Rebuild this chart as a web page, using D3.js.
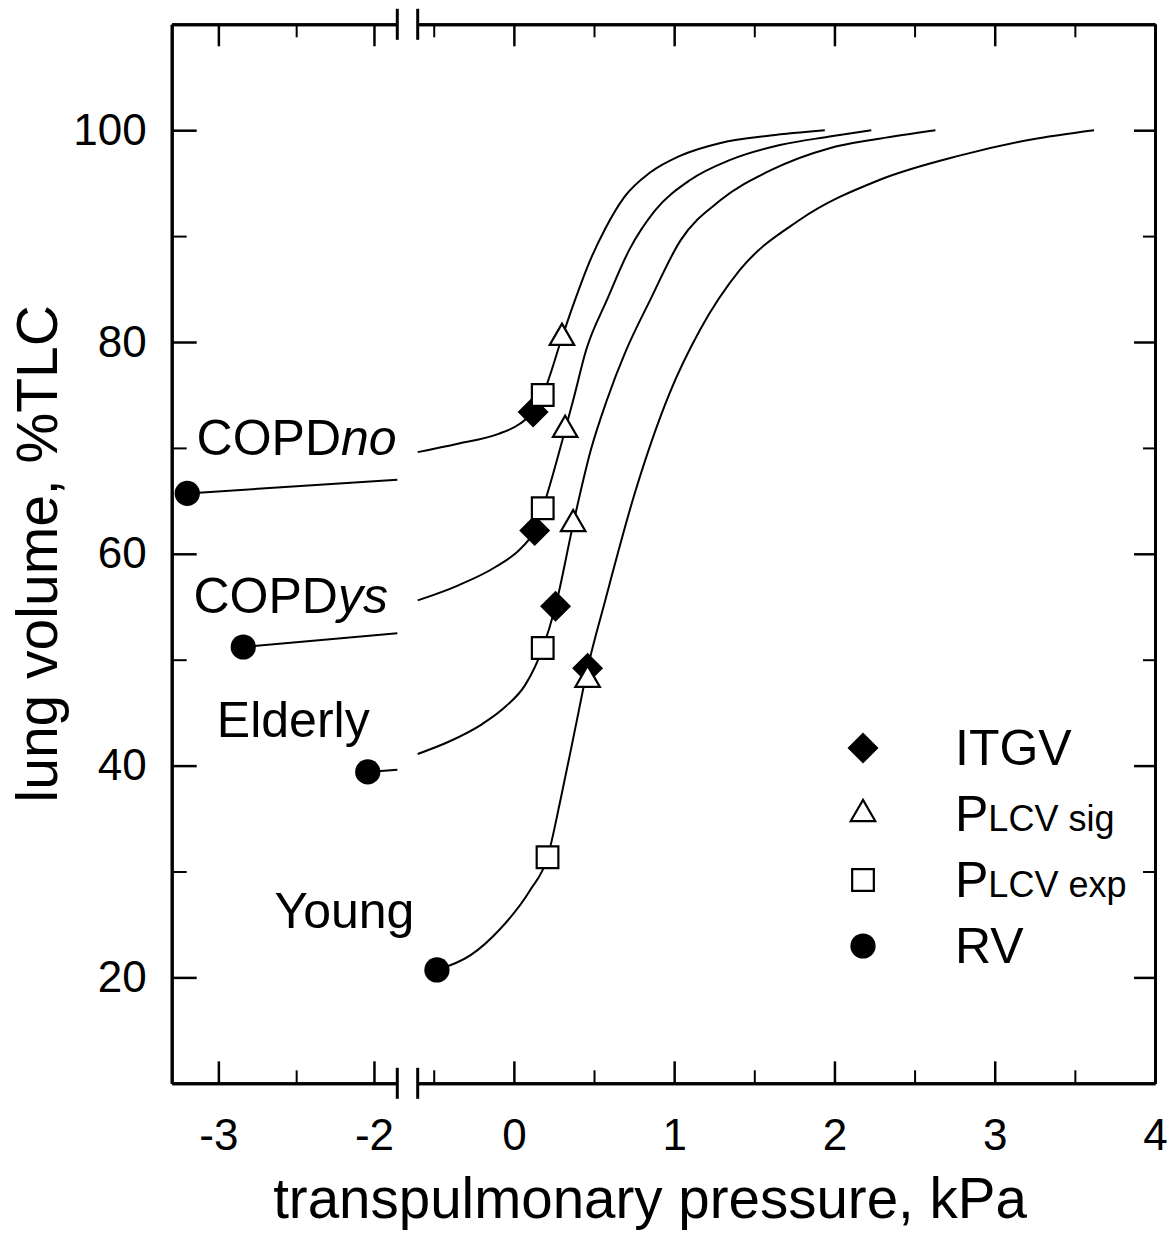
<!DOCTYPE html>
<html>
<head>
<meta charset="utf-8">
<script src="https://cdn.jsdelivr.net/npm/d3@7"></script>
<style>
body { margin: 0; background: #fff; }
text { font-family: "Liberation Sans", Arial, sans-serif; fill: #000; }
</style>
</head>
<body>
<div id="chart"></div>
<script>
// groups, bottom curve to top curve
const groups = ["Young", "Elderly", "COPDys", "COPDno"];

// RV (start of each curve)
const rvX = [-0.48, -2.04, -2.84, -3.20];
const rvY = [20.7, 39.4, 51.2, 65.7];
// ITGV
const itgvX = [0.46, 0.26, 0.13, 0.12];
const itgvY = [49.2, 55.05, 62.2, 73.4];
// PLCV sig
const sigX = [0.46, 0.37, 0.32, 0.30];
const sigY = [48.1, 62.8, 71.7, 80.4];
// PLCV exp
const expX = [0.21, 0.18, 0.18, 0.18];
const expY = [31.35, 51.1, 64.3, 75.0];

// curve pieces left of the axis break
const elderlyLeft = [[-2.04, 39.4], [-1.85, 39.6]];
const copdysLeft = [[-2.84, 51.2], [-1.85, 52.5]];
const copdnoLeft = [[-3.20, 65.7], [-1.85, 67.0]];

// curve pieces right of the axis break
const youngCurve = [[-0.48, 20.7], [-0.27, 22.1], [-0.09, 24.5], [0.10, 28.2], [0.21, 31.35], [0.29, 36.7],
  [0.38, 43.3], [0.46, 49.2], [0.57, 55.6], [0.75, 65.5], [0.97, 75.1], [1.16, 81.1], [1.41, 86.8],
  [1.78, 91.5], [2.28, 95.3], [2.78, 97.6], [3.22, 99.1], [3.62, 100]];
const elderlyCurve = [[-0.6, 41.1], [-0.4, 42.3], [-0.2, 43.9], [-0.05, 45.6], [0.07, 47.6], [0.18, 51.1],
  [0.26, 55.05], [0.37, 62.8], [0.48, 69.8], [0.58, 74.5], [0.70, 79.2], [0.85, 83.95], [1.04, 89.6],
  [1.29, 93.4], [1.60, 96.2], [1.97, 98.3], [2.28, 99.2], [2.63, 100]];
const copdysCurve = [[-0.6, 55.6], [-0.35, 57.0], [-0.11, 58.8], [0.05, 60.6], [0.13, 62.2], [0.18, 64.3],
  [0.32, 71.7], [0.37, 74.5], [0.45, 79.2], [0.58, 83.95], [0.72, 88.7], [0.88, 92.4], [1.10, 95.3],
  [1.35, 97.2], [1.66, 98.6], [1.97, 99.4], [2.23, 100]];
const copdnoCurve = [[-0.6, 69.6], [-0.35, 70.4], [-0.1, 71.3], [0.04, 72.3], [0.12, 73.4], [0.18, 75.0],
  [0.30, 80.4], [0.38, 83.9], [0.47, 87.5], [0.57, 90.7], [0.69, 93.7], [0.85, 96.0], [1.04, 97.6],
  [1.29, 98.8], [1.60, 99.5], [1.94, 100]];

// ticks
const xLeftTicks = [-3, -2];
const xLeftMinor = [-2.5];
const xRightTicks = [0, 1, 2, 3, 4];
const xRightMinor = [-0.5, 0.5, 1.5, 2.5, 3.5];
const yTicks = [20, 40, 60, 80, 100];
const yMinor = [30, 50, 70, 90];

// group labels (left edge / baseline, in data units of the left scale)
const labelText = ["Young", "Elderly", "COPD", "COPD"];
const labelItalic = ["", "", "ys", "no"];
const labelX = [-2.64, -3.01, -3.16, -3.14];
const labelY = [24.7, 42.7, 54.4, 69.3];

const legendNames = ["ITGV", "P", "P", "RV"];
const legendSub = ["", "LCV sig", "LCV exp", ""];

const W = 1173, H = 1245;
const plot = {left: 171.7, right: 1155, top: 24.3, bottom: 1083.3, gapL: 397.3, gapR: 417.7};

const svg = d3.select("#chart").append("svg")
  .attr("width", W).attr("height", H);

// broken x axis: two linear scales
const xL = d3.scaleLinear().domain([-3.3, -1.85]).range([plot.left, plot.gapL]);
const xR = d3.scaleLinear().domain([-0.6, 4]).range([plot.gapR, plot.right]);
const y = d3.scaleLinear().domain([10, 110]).range([plot.bottom, plot.top]);

function styleAxis(g, width) {
  g.attr("font-family", null).attr("font-size", null);
  g.select(".domain").attr("stroke", "#000").attr("stroke-width", 3);
  g.selectAll(".tick line").attr("stroke", "#000").attr("stroke-width", width);
  g.selectAll(".tick text").style("font-size", "44px");
}

// bottom and top axes, one pair per side of the break
[[xL, xLeftTicks, xLeftMinor], [xR, xRightTicks, xRightMinor]].forEach(([sc, major, minor]) => {
  svg.append("g").attr("transform", `translate(0,${plot.bottom})`)
    .call(d3.axisBottom(sc).tickValues(minor).tickSizeInner(-13).tickSizeOuter(0).tickFormat(""))
    .call(g => styleAxis(g, 2));
  svg.append("g").attr("transform", `translate(0,${plot.bottom})`)
    .call(d3.axisBottom(sc).tickValues(major).tickSizeInner(-22).tickSizeOuter(0).tickPadding(35.5).tickFormat(d3.format("d")))
    .call(g => styleAxis(g, 2.5));
  svg.append("g").attr("transform", `translate(0,${plot.top})`)
    .call(d3.axisTop(sc).tickValues(minor).tickSizeInner(-13).tickSizeOuter(0).tickFormat(""))
    .call(g => styleAxis(g, 2));
  svg.append("g").attr("transform", `translate(0,${plot.top})`)
    .call(d3.axisTop(sc).tickValues(major).tickSizeInner(-22).tickSizeOuter(0).tickFormat(""))
    .call(g => styleAxis(g, 2.5));
});

// plain hyphen for the minus sign, like the original
svg.selectAll(".tick text").text(function() { return this.textContent.replace("\u2212", "-"); });

// y axes
svg.append("g").attr("transform", `translate(${plot.left},0)`)
  .call(d3.axisLeft(y).tickValues(yMinor).tickSizeInner(-15).tickSizeOuter(0).tickFormat(""))
  .call(g => styleAxis(g, 2));
svg.append("g").attr("transform", `translate(${plot.left},0)`)
  .call(d3.axisLeft(y).tickValues(yTicks).tickSizeInner(-25).tickSizeOuter(0).tickPadding(25))
  .call(g => styleAxis(g, 2.5));
svg.append("g").attr("transform", `translate(${plot.right},0)`)
  .call(d3.axisRight(y).tickValues(yMinor).tickSizeInner(-12).tickSizeOuter(0).tickFormat(""))
  .call(g => styleAxis(g, 2));
svg.append("g").attr("transform", `translate(${plot.right},0)`)
  .call(d3.axisRight(y).tickValues(yTicks).tickSizeInner(-21).tickSizeOuter(0).tickFormat(""))
  .call(g => styleAxis(g, 2.5));

// break marks on top and bottom axes
[xL.range()[1], xR.range()[0]].forEach(bx => {
  [plot.bottom, plot.top].forEach(by => {
    svg.append("line")
      .attr("x1", bx).attr("x2", bx)
      .attr("y1", by - 15.5).attr("y2", by + 15.5)
      .attr("stroke", "#000").attr("stroke-width", 3);
  });
});

// axis titles
svg.append("text")
  .attr("x", 650).attr("y", 1218)
  .attr("text-anchor", "middle")
  .style("font-size", "56.5px")
  .text("transpulmonary pressure, kPa");

svg.append("text")
  .attr("transform", `translate(57,${(plot.top + plot.bottom) / 2}) rotate(-90)`)
  .attr("text-anchor", "middle")
  .style("font-size", "57px")
  .text("lung volume, %TLC");

// curves
const lineL = d3.line().x(d => xL(d[0])).y(d => y(d[1]));
const lineR = d3.line().x(d => xR(d[0])).y(d => y(d[1])).curve(d3.curveMonotoneX);

[elderlyLeft, copdysLeft, copdnoLeft].forEach(c => {
  svg.append("path").attr("d", lineL(c))
    .attr("fill", "none").attr("stroke", "#000").attr("stroke-width", 2);
});
[youngCurve, elderlyCurve, copdysCurve, copdnoCurve].forEach(c => {
  svg.append("path").attr("d", lineR(c))
    .attr("fill", "none").attr("stroke", "#000").attr("stroke-width", 2);
});

// x value to pixel, picking the side of the break
const xPos = v => v < -1 ? xL(v) : xR(v);

const diamond = d3.symbol().type(d3.symbolSquare).size(480);
const triangle = d3.symbol().type(d3.symbolTriangle).size(260);
const square = d3.symbol().type(d3.symbolSquare).size(470);
const circle = d3.symbol().type(d3.symbolCircle).size(500);

// markers
svg.selectAll("path.itgv")
  .data(groups)
  .join("path")
  .attr("class", "itgv")
  .attr("d", diamond)
  .attr("transform", (d, i) => `translate(${xPos(itgvX[i])},${y(itgvY[i])}) rotate(45)`)
  .attr("fill", "#000");

svg.selectAll("path.exp")
  .data(groups)
  .join("path")
  .attr("class", "exp")
  .attr("d", square)
  .attr("transform", (d, i) => `translate(${xPos(expX[i])},${y(expY[i])})`)
  .attr("fill", "#fff").attr("stroke", "#000").attr("stroke-width", 2.2);

svg.selectAll("path.sig")
  .data(groups)
  .join("path")
  .attr("class", "sig")
  .attr("d", triangle)
  .attr("transform", (d, i) => `translate(${xPos(sigX[i])},${y(sigY[i])})`)
  .attr("fill", "#fff").attr("stroke", "#000").attr("stroke-width", 2.2);

svg.selectAll("path.rv")
  .data(groups)
  .join("path")
  .attr("class", "rv")
  .attr("d", circle)
  .attr("transform", (d, i) => `translate(${xPos(rvX[i])},${y(rvY[i])})`)
  .attr("fill", "#000");

// group labels
groups.forEach((g, i) => {
  const t = svg.append("text")
    .attr("x", xL(labelX[i])).attr("y", y(labelY[i]))
    .style("font-size", "50px")
    .text(labelText[i]);
  if (labelItalic[i]) t.append("tspan").style("font-style", "italic").text(labelItalic[i]);
});

// legend
const legend = svg.append("g").attr("transform", "translate(863,748)");
const legendSymbols = [diamond, triangle, square, circle];
legendNames.forEach((name, i) => {
  const row = legend.append("g").attr("transform", `translate(0,${i * 66})`);
  const sym = row.append("path").attr("d", legendSymbols[i]);
  if (i === 0) sym.attr("transform", "rotate(45)").attr("fill", "#000");
  else if (i === 3) sym.attr("fill", "#000");
  else sym.attr("fill", "#fff").attr("stroke", "#000").attr("stroke-width", 2.2);
  const t = row.append("text")
    .attr("x", 92).attr("y", 17)
    .style("font-size", "50px")
    .text(name);
  if (legendSub[i]) t.append("tspan").style("font-size", "36px").text(legendSub[i]);
});
</script>
</body>
</html>
